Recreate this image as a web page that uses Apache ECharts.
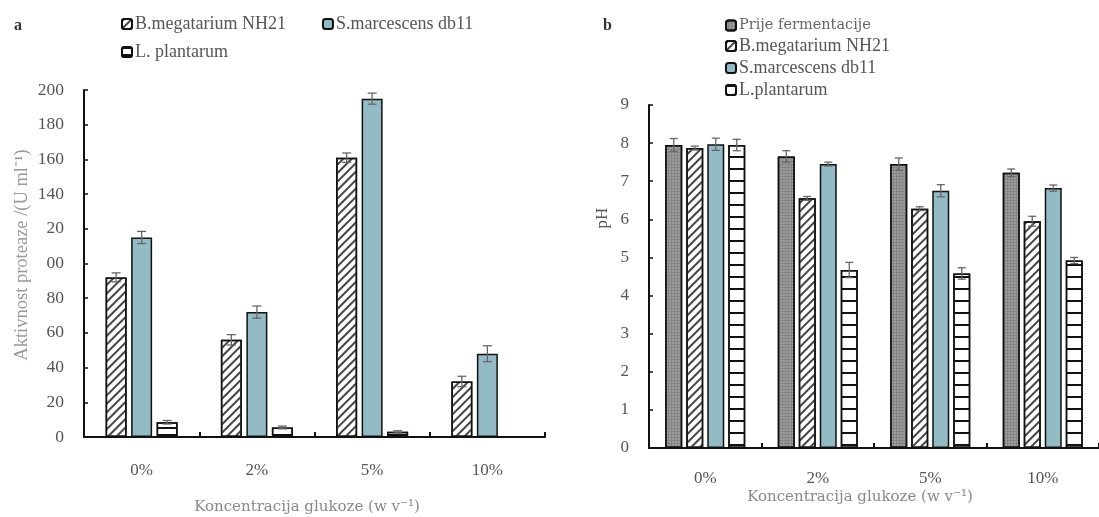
<!DOCTYPE html>
<html>
<head>
<meta charset="utf-8">
<script src="https://cdn.jsdelivr.net/npm/echarts@6/dist/echarts.min.js"></script>
<style>
html,body{margin:0;padding:0;background:#fff;}
#c{width:1099px;height:517px;}
</style>
</head>
<body>
<div id="c"></div>
<script>
// ---------- data ----------
const categories = ['0%', '2%', '5%', '10%'];

// chart a: protease activity (U ml-1)
const aMegaterium = [92, 56, 161, 32];
const aMegateriumErr = [2.6, 3, 2.7, 3];
const aMarcescens = [115, 72, 195, 48];
const aMarcescensErr = [3.5, 3.5, 3.2, 4.6];
const aPlantarum = [8.5, 5.5, 3, null];
const aPlantarumErr = [1, 0.8, 0.6, null];
const aTickLabels = ['0', '20', '40', '60', '80', '00', '20', '140', '160', '180', '200'];

// chart b: pH
const bPrije = [7.95, 7.65, 7.45, 7.22];
const bPrijeErr = [0.17, 0.15, 0.16, 0.1];
const bMegaterium = [7.87, 6.55, 6.28, 5.95];
const bMegateriumErr = [0.05, 0.05, 0.05, 0.13];
const bMarcescens = [7.97, 7.45, 6.75, 6.82];
const bMarcescensErr = [0.16, 0.05, 0.16, 0.08];
const bPlantarum = [7.95, 4.67, 4.58, 4.92];
const bPlantarumErr = [0.15, 0.2, 0.15, 0.08];
const bTickLabels = ['0', '1', '2', '3', '4', '5', '6', '7', '8', '9'];

// ---------- styles ----------
const serif = 'Liberation Serif';
const slab = 'DejaVu Serif';
const blue = '#93bbc6';
const hatchDecal = {symbol: 'rect', dashArrayX: [1, 0], dashArrayY: [1.6, 4], rotation: -Math.PI / 4, color: '#444'};
const stripeDecalA = {symbol: 'rect', dashArrayX: [1, 0], dashArrayY: [2, 5], rotation: 0, color: '#111'};
const stripeDecalB = {symbol: 'rect', dashArrayX: [1, 0], dashArrayY: [2, 10], rotation: 0, color: '#111'};
const dotDecal = {symbol: 'circle', symbolSize: 0.7, dashArrayX: [2, 1], dashArrayY: [2, 1], color: '#c8c8c8'};
const border = {borderColor: '#111', borderWidth: 1.5};

function errSeries(name, vals, errs, xi, offset, capW) {
  return {
    type: 'custom', name: name + ' err', xAxisIndex: xi, yAxisIndex: xi, z: 10,
    silent: true, legendHoverLink: false,
    data: vals.map((v, i) => (v == null ? null : [i, v, errs[i]])).filter(d => d),
    renderItem: function (params, api) {
      const c = api.value(0), v = api.value(1), e = api.value(2);
      const top = api.coord([c, v + e]);
      const bot = api.coord([c, v - e]);
      const x = top[0] + offset;
      const st = {stroke: '#666', lineWidth: 1.3};
      return {type: 'group', children: [
        {type: 'line', shape: {x1: x, y1: top[1], x2: x, y2: bot[1]}, style: st},
        {type: 'line', shape: {x1: x - capW / 2, y1: top[1], x2: x + capW / 2, y2: top[1]}, style: st},
        {type: 'line', shape: {x1: x - capW / 2, y1: bot[1], x2: x + capW / 2, y2: bot[1]}, style: st}
      ]};
    }
  };
}

const bwA = 21, gapA = 4.5;
const bwB = 17, gapB = 4;
const offA = i => (i - 1) * (bwA + gapA);
const offB = i => (i - 1.5) * (bwB + gapB);

function xAxisCommon(gi) {
  return {
    type: 'category', gridIndex: gi, data: categories,
    axisLine: {lineStyle: {color: '#111', width: 2}},
    axisTick: {show: true, inside: true, length: 5, lineStyle: {color: '#111', width: 2}},
    axisLabel: {fontFamily: serif, fontSize: 17, color: '#555', margin: gi === 0 ? 25 : 22}
  };
}
function yAxisCommon(gi, max, interval, labels, fs) {
  return {
    type: 'value', gridIndex: gi, min: 0, max: max, interval: interval,
    axisLine: {show: true, lineStyle: {color: '#111', width: 2}},
    axisTick: {show: true, inside: true, length: 4, lineStyle: {color: '#111', width: 1.5}},
    splitLine: {show: false},
    axisLabel: {fontFamily: serif, fontSize: fs, color: '#555', margin: 20,
      formatter: v => labels[Math.round(v / interval)]}
  };
}

const chart = echarts.init(document.getElementById('c'));
chart.setOption({
  animation: false,
  backgroundColor: '#fff',
  grid: [
    {left: 84, top: 90, width: 461, bottom: 80},
    {left: 649, top: 105, right: -7, bottom: 69}
  ],
  xAxis: [xAxisCommon(0), xAxisCommon(1)],
  yAxis: [yAxisCommon(0, 200, 20, aTickLabels, 17.5), yAxisCommon(1, 9, 1, bTickLabels, 17)],
  legend: [
    {left: 116, top: 10, itemWidth: 10, itemHeight: 10, itemGap: 36, orient: 'horizontal',
     data: ['B.megatarium NH21', 'S.marcescens db11'],
     textStyle: {fontFamily: serif, fontSize: 18, color: '#555', padding: [0, 0, 0, -2]}},
    {left: 116, top: 38, itemWidth: 10, itemHeight: 10,
     data: ['L. plantarum'],
     textStyle: {fontFamily: serif, fontSize: 18, color: '#555', padding: [0, 0, 0, -2]}},
    {left: 720, top: 13, orient: 'vertical', itemWidth: 10, itemHeight: 10, itemGap: 4,
     data: [{name: 'Prije fermentacije', textStyle: {fontFamily: slab, fontSize: 14.5, color: '#666'}},
            'B.megatarium NH21 ', 'S.marcescens db11 ', 'L.plantarum'],
     textStyle: {fontFamily: serif, fontSize: 18, color: '#555', padding: [0, 0, 0, -2]}}
  ],
  series: [
    {type: 'bar', name: 'B.megatarium NH21', xAxisIndex: 0, yAxisIndex: 0, data: aMegaterium,
     barWidth: bwA, barGap: (gapA / bwA * 100) + '%',
     itemStyle: Object.assign({color: '#fff', decal: hatchDecal}, border)},
    {type: 'bar', name: 'S.marcescens db11', xAxisIndex: 0, yAxisIndex: 0, data: aMarcescens,
     barWidth: bwA, itemStyle: Object.assign({color: blue}, border)},
    {type: 'bar', name: 'L. plantarum', xAxisIndex: 0, yAxisIndex: 0, data: aPlantarum,
     barWidth: bwA, itemStyle: Object.assign({color: '#fff', decal: stripeDecalA}, border)},
    errSeries('a1', aMegaterium, aMegateriumErr, 0, offA(0), 9),
    errSeries('a2', aMarcescens, aMarcescensErr, 0, offA(1), 9),
    errSeries('a3', aPlantarum, aPlantarumErr, 0, offA(2), 9),

    {type: 'bar', name: 'Prije fermentacije', xAxisIndex: 1, yAxisIndex: 1, data: bPrije,
     barWidth: bwB, barGap: (gapB / bwB * 100) + '%',
     itemStyle: Object.assign({color: '#858585', decal: dotDecal}, border)},
    {type: 'bar', name: 'B.megatarium NH21 ', xAxisIndex: 1, yAxisIndex: 1, data: bMegaterium,
     barWidth: bwB, itemStyle: Object.assign({color: '#fff', decal: hatchDecal}, border)},
    {type: 'bar', name: 'S.marcescens db11 ', xAxisIndex: 1, yAxisIndex: 1, data: bMarcescens,
     barWidth: bwB, itemStyle: Object.assign({color: blue}, border)},
    {type: 'bar', name: 'L.plantarum', xAxisIndex: 1, yAxisIndex: 1, data: bPlantarum,
     barWidth: bwB, itemStyle: Object.assign({color: '#fff', decal: stripeDecalB}, border)},
    errSeries('b1', bPrije, bPrijeErr, 1, offB(0), 8),
    errSeries('b2', bMegaterium, bMegateriumErr, 1, offB(1), 8),
    errSeries('b3', bMarcescens, bMarcescensErr, 1, offB(2), 8),
    errSeries('b4', bPlantarum, bPlantarumErr, 1, offB(3), 8)
  ],
  graphic: [
    {type: 'text', left: 14, top: 18, style: {text: 'a', font: 'bold 16px "Liberation Serif"', fill: '#333'}},
    {type: 'text', left: 603, top: 18, style: {text: 'b', font: 'bold 16px "Liberation Serif"', fill: '#333'}},
    {type: 'text', x: 22, y: 255, rotation: Math.PI / 2,
     style: {text: 'Aktivnost proteaze /(U ml⁻¹)', font: '18.5px "Liberation Serif"', fill: '#999', align: 'center', verticalAlign: 'middle'}},
    {type: 'text', x: 603, y: 218, rotation: Math.PI / 2,
     style: {text: 'pH', font: '17px "Liberation Serif"', fill: '#555', align: 'center', verticalAlign: 'middle'}},
    {type: 'text', x: 307, y: 507,
     style: {text: 'Koncentracija glukoze (w v⁻¹)', font: '15px "DejaVu Serif"', fill: '#888', align: 'center', verticalAlign: 'middle'}},
    {type: 'text', x: 860, y: 497,
     style: {text: 'Koncentracija glukoze (w v⁻¹)', font: '15px "DejaVu Serif"', fill: '#888', align: 'center', verticalAlign: 'middle'}}
  ]
});
</script>
</body>
</html>
